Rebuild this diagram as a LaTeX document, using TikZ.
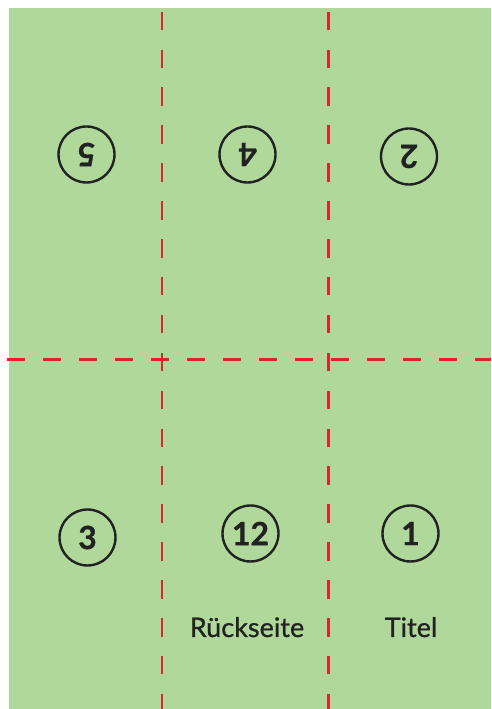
\documentclass[tikz,border=0pt]{standalone}
\usepackage{fontspec}
\setmainfont{Lato}
\newfontfamily\labfont[FakeBold=0.8]{Lato}
\newfontfamily\numfont[FakeBold=0.7]{Lato Bold}
\definecolor{bggreen}{RGB}{176,216,154}
\definecolor{cutred}{RGB}{214,40,44}
\definecolor{ink}{RGB}{34,34,34}
\begin{document}
\begin{tikzpicture}[x=1pt,y=1pt,
  vcut/.style={draw=cutred,line width=2.6pt,dash pattern=on 18.5pt off 19.4pt},
  hcut/.style={draw=cutred,line width=2.6pt,dash pattern=on 18pt off 18pt},
  pagenum/.style={circle,draw=ink,line width=2.4pt,minimum size=56pt,inner sep=0pt,
    text=ink,font=\numfont\fontsize{32}{32}\selectfont},
  label/.style={text=ink,anchor=base,font=\labfont\fontsize{27}{27}\selectfont}]
\useasboundingbox (0,0) rectangle (491,709);
\fill[bggreen] (9,0) rectangle (491,701);
% cut lines
\coordinate (v1t) at (162,697.3); \coordinate (v1b) at (162,0);
\coordinate (v2t) at (328.3,697.3); \coordinate (v2b) at (328.3,0);
\coordinate (hl) at (7,349.7); \coordinate (hr) at (491,349.7);
\draw[vcut] (v1t) -- (v1b);
\draw[vcut] (v2t) -- (v2b);
\draw[hcut] (hl) -- (hr);
% page numbers
\node[pagenum,rotate=180] (p5) at (86.5,554.5) {5};
\node[pagenum,rotate=180] (p4) at (247.5,554.5) {4};
\node[pagenum,rotate=180] (p2) at (409,552.5) {2};
\node[pagenum] (p3) at (87.5,171.5) {3};
\node[pagenum] (p12) at (250.5,175.5) {12};
\node[pagenum] (p1) at (410.5,175.5) {1};
% labels
\node[label] (lr) at (247,72) {Rückseite};
\node[label] (lt) at (411,72) {Titel};
\end{tikzpicture}
\end{document}
